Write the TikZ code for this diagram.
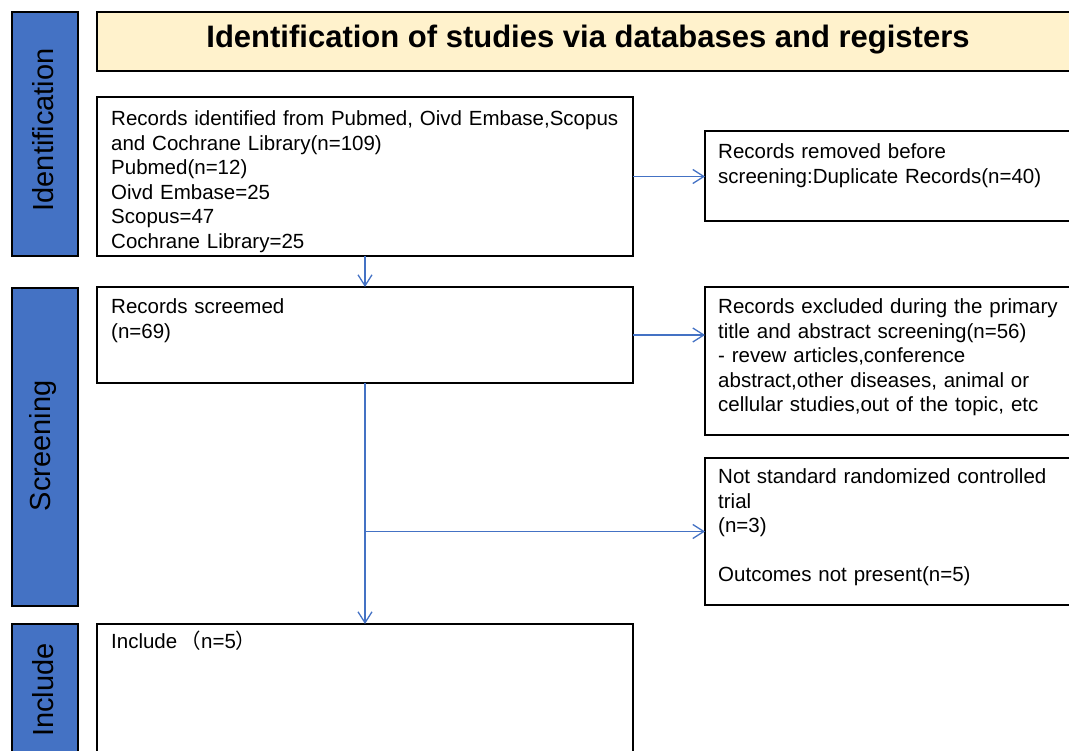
\documentclass[tikz,border=0pt]{standalone}
\usepackage{fontspec}
\setmainfont{Liberation Sans}
\newfontfamily\cjk{Noto Sans CJK SC}
\usetikzlibrary{arrows.meta}
\definecolor{sideblue}{HTML}{4472C4}
\definecolor{headfill}{HTML}{FFF2CC}
\begin{document}
\begin{tikzpicture}[x=1pt,y=-1pt,
  box/.style={draw=black,line width=2.8pt,fill=white,rectangle,inner sep=0pt,outer sep=0pt},
  side/.style={box,fill=sideblue},
  txt/.style={anchor=base west,inner sep=0pt,align=left,font=\fontsize{20.5}{24.6}\selectfont},
  sidetxt/.style={rotate=90,inner sep=0pt,font=\fontsize{29}{34}\selectfont},
  flow/.style={draw=sideblue,line width=1.3pt,-{Straight Barb[length=11pt,width=14pt,line width=1.3pt]}},
  link/.style={draw=sideblue,line width=1.3pt}]
\useasboundingbox (0,0) rectangle (1069,751);
\clip (0,0) rectangle (1069,751);
% side bars
\node[side,minimum width=66,minimum height=244] (sideid) at (45,134) {};
\node[side,minimum width=66,minimum height=318] (sidescr) at (45,447) {};
\node[side,minimum width=66,minimum height=160] (sideinc) at (45,704) {};
\node[sidetxt] (sideidt) at (43,130) {Identification};
\node[sidetxt] (sidescrt) at (43,446) {Screening};
\node[sidetxt] (sideinct) at (43,690) {Include};
% header
\node[box,fill=headfill,minimum width=1000,minimum height=59] (head) at (597,41.5) {};
\node[anchor=base,inner sep=0pt,font=\fontsize{31}{36}\selectfont\bfseries] (headt) at (588,48) {Identification of studies via databases and registers};
% boxes
\node[box,minimum width=536,minimum height=159] (ident) at (365,176.5) {};
\node[box,minimum width=400,minimum height=90] (removed) at (905,176) {};
\node[box,minimum width=536,minimum height=96] (screened) at (365,335) {};
\node[box,minimum width=400,minimum height=148] (excluded) at (905,361) {};
\node[box,minimum width=400,minimum height=147] (notstd) at (905,531.5) {};
\node[box,minimum width=536,minimum height=160] (include) at (365,704) {};
% texts
\node[txt,text width=520] (identt) at (111,125.5) {Records identified from Pubmed, Oivd Embase,Scopus\\and Cochrane Library(n=109)\\Pubmed(n=12)\\Oivd Embase=25\\Scopus=47\\Cochrane Library=25};
\node[txt,text width=350] (removedt) at (718,158.5) {Records removed before\\screening:Duplicate Records(n=40)};
\node[txt,text width=520] (screenedt) at (111,313.5) {Records screemed\\(n=69)};
\node[txt,text width=350] (excludedt) at (718,313.5) {Records excluded during the primary\\title and abstract screening(n=56)\\- revew articles,conference\\abstract,other diseases, animal or\\cellular studies,out of the topic, etc};
\node[txt,text width=350] (notstdt) at (718,483.5) {Not standard randomized controlled\\trial\\(n=3)\\[24.6pt]Outcomes not present(n=5)};
\node[txt,text width=300] (includet) at (111,648.5) {Include\,{\cjk （}n=5{\cjk ）}};
% connectors
\coordinate (branch) at (screened.south |- notstd.west);
\draw[flow] (ident.south) -- (screened.north);
\draw[flow] (ident.east) -- (ident.east -| removed.west);
\draw[flow] (screened.east) -- (screened.east -| excluded.west);
\draw[flow] (screened.south) -- (include.north);
\draw[flow] (branch) -- (notstd.west);
\end{tikzpicture}
\end{document}
